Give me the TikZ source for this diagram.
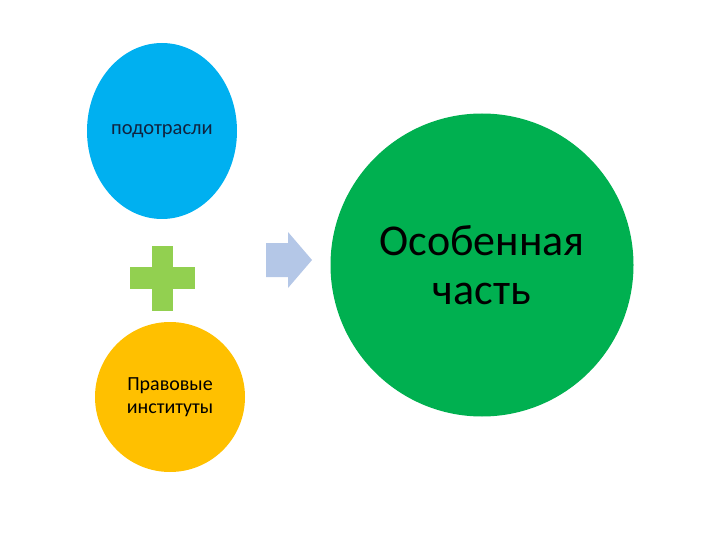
\documentclass[tikz,border=0pt]{standalone}
\usepackage{fontspec}
\setmainfont{Carlito}
\usetikzlibrary{shapes.geometric}

\definecolor{podblue}{HTML}{00B0F0}
\definecolor{podtext}{HTML}{10233F}
\definecolor{plusgreen}{HTML}{92D050}
\definecolor{arrowblue}{HTML}{B4C7E7}
\definecolor{instorange}{HTML}{FFC000}
\definecolor{partgreen}{HTML}{00B050}

\begin{document}
\begin{tikzpicture}[
                x=1pt,y=-1pt,
                line width=1pt] %

\useasboundingbox (0,0) rectangle (720,540);

                    % left
                    \node[ellipse,fill=podblue,text=podtext,minimum width=150pt,minimum height=176pt,inner sep=0pt,font=\fontsize{20.5}{24}\selectfont] (POD) at (162,131) {подотрасли}; % 1

                    \fill[plusgreen] (130,267) rectangle (195,289); % plus
                    \fill[plusgreen] (152,246) rectangle (173,311);

                    \node[circle,fill=instorange,text=black,minimum size=150pt,inner sep=0pt,align=center,font=\fontsize{20}{23}\selectfont] (INST) at (170,397) {Правовые\\институты}; % 2


                    % arrow
                    \fill[arrowblue] (266,243) -- (288,243) -- (288,232) -- (312,260) -- (288,288) -- (288,277) -- (266,277) -- cycle;


                    % right
                    \node[circle,fill=partgreen,text=black,minimum size=303pt,inner sep=0pt,align=center,font=\fontsize{44}{49}\selectfont] (PART) at (482,265) {Особенная\\часть}; % 3

\end{tikzpicture}
\end{document}
